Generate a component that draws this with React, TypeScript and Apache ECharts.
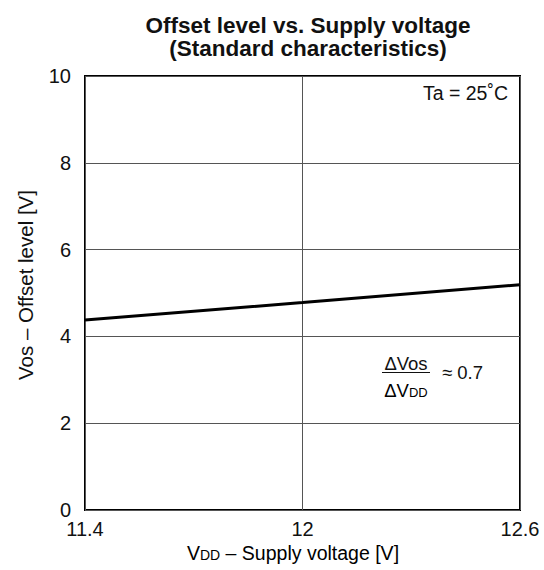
import React, { useEffect, useRef } from "react";
import * as echarts from "echarts";

const supplyVoltage = [11.4, 12.0, 12.6];
const offsetLevel = [4.38, 4.78, 5.19];
const xTicks = [11.4, 12, 12.6];
const yTicks = [0, 2, 4, 6, 8, 10];

const FONT = "Liberation Sans, Arial, sans-serif";

export default function App() {
  const ref = useRef<HTMLDivElement>(null);
  useEffect(() => {
    if (!ref.current) return;
    const chart = echarts.init(ref.current, undefined, { renderer: "svg" });
    const data = supplyVoltage.map((x, i) => [x, offsetLevel[i]]);
    chart.setOption({
      animation: false,
      backgroundColor: "#fff",
      title: {
        text: "Offset level vs. Supply voltage\n(Standard characteristics)",
        left: 303,
        textAlign: "center",
        top: 9,
        textStyle: { fontFamily: FONT, fontSize: 22.5, fontWeight: "bold", color: "#111", lineHeight: 23 },
      },
      grid: {
        left: 85,
        right: 24,
        top: 76,
        bottom: 60,
        show: true,
        borderColor: "#000",
        borderWidth: 2,
        containLabel: false,
      },
      xAxis: {
        type: "value",
        min: xTicks[0],
        max: xTicks[xTicks.length - 1],
        interval: 0.6,
        axisLine: { show: false },
        axisTick: { show: false },
        splitLine: { show: true, lineStyle: { color: "#555", width: 1 } },
        axisLabel: {
          margin: 9,
          fontFamily: FONT,
          fontSize: 20,
          color: "#111",
          formatter: (v: number) => {
            const r = Math.round(v * 10) / 10;
            return xTicks.some((t) => Math.abs(t - r) < 1e-6) ? String(r) : "";
          },
        },
      },
      yAxis: {
        type: "value",
        min: yTicks[0],
        max: yTicks[yTicks.length - 1],
        interval: 2,
        axisLine: { show: false },
        axisTick: { show: false },
        splitLine: { show: true, lineStyle: { color: "#555", width: 1 } },
        axisLabel: { margin: 14, fontFamily: FONT, fontSize: 20, color: "#111" },
      },
      series: [
        {
          type: "line",
          data,
          symbol: "none",
          lineStyle: { color: "#000", width: 3 },
        },
      ],
      graphic: [
        {
          type: "text",
          x: 508,
          y: 92.5,
          style: {
            text: "Ta = 25˚C",
            fontFamily: FONT,
            fontSize: 19.5,
            fill: "#111",
            align: "right",
            verticalAlign: "middle",
          },
        },
        {
          type: "text",
          x: 406,
          y: 363.5,
          style: {
            text: "ΔVos",
            fontFamily: FONT,
            fontSize: 18.5,
            fill: "#111",
            align: "center",
            verticalAlign: "middle",
          },
        },
        {
          type: "line",
          shape: { x1: 382, y1: 372.5, x2: 430, y2: 372.5 },
          style: { stroke: "#111", lineWidth: 1.2 },
        },
        {
          type: "text",
          x: 406,
          y: 390,
          style: {
            text: "{n|ΔV}{s|DD}",
            align: "center",
            verticalAlign: "middle",
            rich: {
              n: { fontFamily: FONT, fontSize: 18.5, color: "#111" },
              s: { fontFamily: FONT, fontSize: 13, color: "#111", padding: [4, 0, 0, 0] },
            },
          },
        },
        {
          type: "text",
          x: 442,
          y: 372.5,
          style: {
            text: "≈ 0.7",
            fontFamily: FONT,
            fontSize: 18.5,
            fill: "#111",
            align: "left",
            verticalAlign: "middle",
          },
        },
        {
          type: "text",
          x: 293,
          y: 553,
          style: {
            text: "{n|V}{s|DD}{n| – Supply voltage [V]}",
            align: "center",
            verticalAlign: "middle",
            rich: {
              n: { fontFamily: FONT, fontSize: 19.5, color: "#111" },
              s: { fontFamily: FONT, fontSize: 14, color: "#111", padding: [4, 0, 0, 0] },
            },
          },
        },
        {
          type: "text",
          x: 25,
          y: 285,
          rotation: Math.PI / 2,
          style: {
            text: "Vos – Offset level [V]",
            fontFamily: FONT,
            fontSize: 20.5,
            fill: "#111",
            align: "center",
            verticalAlign: "middle",
          },
        },
      ],
    });
    return () => chart.dispose();
  }, []);
  return (
    <div
      ref={ref}
      style={{ position: "absolute", left: 0, top: 0, width: 544, height: 570 }}
    />
  );
}
